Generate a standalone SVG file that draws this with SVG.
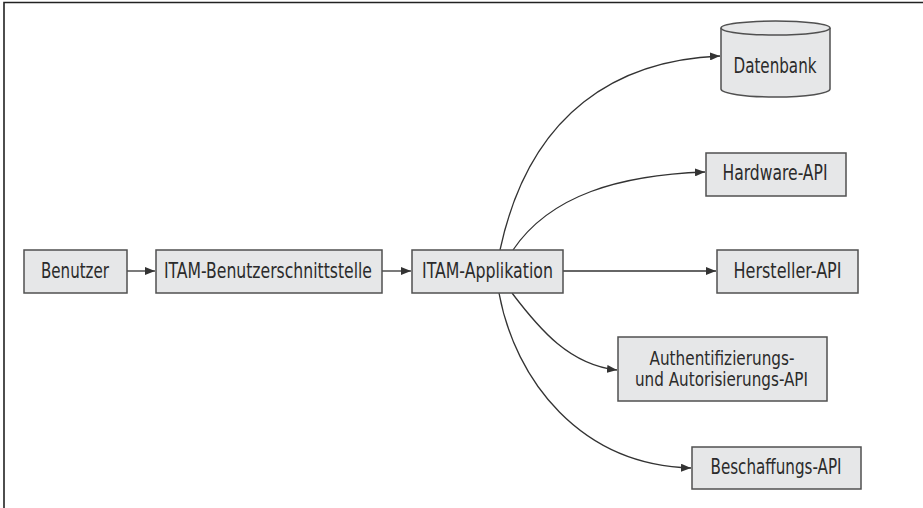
<svg xmlns="http://www.w3.org/2000/svg" width="923" height="508" viewBox="0 0 923 508">
<defs>
<style>
.box{fill:#e6e7e8;stroke:#505050;stroke-width:1.5}
.lbl{font-family:"DejaVu Sans Condensed","Liberation Sans Narrow","Liberation Sans",Arial,sans-serif;font-stretch:condensed;font-size:21px;fill:#2b2b2b;text-anchor:middle}
.sm{font-size:20px}
.edge{fill:none;stroke:#333;stroke-width:1.3}
.frame{fill:none;stroke:#222;stroke-width:1.6}
</style>
<marker id="ah" viewBox="0 0 10 8" refX="10" refY="4" markerWidth="10" markerHeight="8" markerUnits="userSpaceOnUse" orient="auto">
<path d="M0,0 L10,4 L0,8 Z" fill="#333"/>
</marker>
</defs>
<rect width="923" height="508" fill="#fff"/>
<path class="frame" d="M4,508 L4,2.5 L923,2.5"/>

<g id="connectors">
<path class="edge" d="M127,271 L155,271" marker-end="url(#ah)"/>
<path class="edge" d="M382,271 L411,271" marker-end="url(#ah)"/>
<path class="edge" d="M563,271 L716,271" marker-end="url(#ah)"/>
<path class="edge" d="M500,250 C530,110 620,60 720,56" marker-end="url(#ah)"/>
<path class="edge" d="M513,250 C550,195 620,175 705,172" marker-end="url(#ah)"/>
<path class="edge" d="M512,293 C540,330 570,365 617,370" marker-end="url(#ah)"/>
<path class="edge" d="M499,293 C515,380 580,465 691,468" marker-end="url(#ah)"/>
</g>

<g id="benutzer">
<rect class="box" x="24" y="250" width="103" height="43"/>
<text class="lbl" x="75" y="277.5" textLength="68" lengthAdjust="spacingAndGlyphs">Benutzer</text>
</g>
<g id="itam-ui">
<rect class="box" x="156" y="250" width="226" height="43"/>
<text class="lbl" x="268" y="277.5" textLength="208" lengthAdjust="spacingAndGlyphs">ITAM-Benutzerschnittstelle</text>
</g>
<g id="itam-app">
<rect class="box" x="412" y="250" width="151" height="43"/>
<text class="lbl" x="487.5" y="277.5" textLength="131" lengthAdjust="spacingAndGlyphs">ITAM-Applikation</text>
</g>
<g id="datenbank">
<path class="box" d="M721,28 L721,89 A54.5,8 0 0 0 830,89 L830,28"/>
<ellipse class="box" cx="775.5" cy="28" rx="54.5" ry="7"/>
<text class="lbl" x="775" y="72.5" textLength="83" lengthAdjust="spacingAndGlyphs">Datenbank</text>
</g>
<g id="hardware-api">
<rect class="box" x="706" y="153" width="140" height="43"/>
<text class="lbl" x="775" y="179.5" textLength="105" lengthAdjust="spacingAndGlyphs">Hardware-API</text>
</g>
<g id="hersteller-api">
<rect class="box" x="717" y="250" width="141" height="43"/>
<text class="lbl" x="787.5" y="277.5" textLength="108" lengthAdjust="spacingAndGlyphs">Hersteller-API</text>
</g>
<g id="auth-api">
<rect class="box" x="618" y="337" width="209" height="64"/>
<text class="lbl sm" x="722" y="364.5" textLength="145" lengthAdjust="spacingAndGlyphs">Authentifizierungs-</text>
<text class="lbl sm" x="721.5" y="386" textLength="173" lengthAdjust="spacingAndGlyphs">und Autorisierungs-API</text>
</g>
<g id="beschaffungs-api">
<rect class="box" x="692" y="447" width="169" height="42"/>
<text class="lbl" x="776" y="473.5" textLength="131" lengthAdjust="spacingAndGlyphs">Beschaffungs-API</text>
</g>
</svg>
